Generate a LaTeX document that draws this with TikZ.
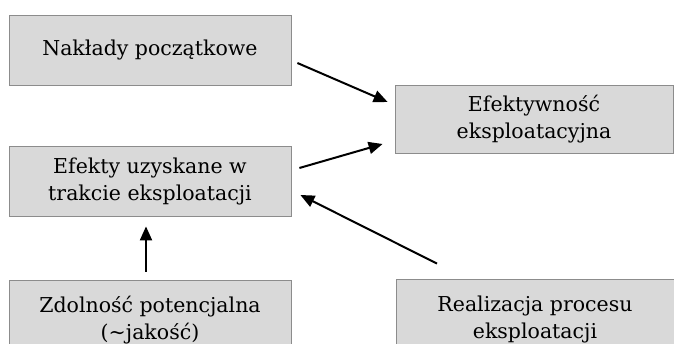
\documentclass[tikz,border=0pt]{standalone}
\usepackage{fontspec}
\setmainfont{DejaVu Serif}
\usetikzlibrary{arrows.meta}
\begin{document}
\begin{tikzpicture}[x=1pt,y=1pt,
    box/.style={draw=gray!90,fill=gray!30,line width=0.8pt,align=center,
      minimum width=282pt,minimum height=70pt,inner sep=0pt,
      font=\fontsize{20.5}{27}\selectfont},
    arr/.style={line width=2pt,-{Triangle[length=14pt,width=12pt]}}]
    \useasboundingbox (0,0) rectangle (674,344);
    \node[box] (nak) at (150,294) {Nakłady początkowe};
    \node[box,minimum width=278pt,minimum height=68pt] (efe) at (534,225) {Efektywność\\eksploatacyjna};
    \node[box] (uzy) at (150,163) {Efekty uzyskane w\\trakcie eksploatacji};
    \node[box,minimum height=80pt] (zdo) at (150,24) {Zdolność potencjalna\\(\textasciitilde jakość)};
    \node[box,minimum width=278pt,minimum height=80pt] (rea) at (535,25) {Realizacja procesu\\eksploatacji};
    \draw[arr] ([shift={(6,-13)}]nak.east) -- ([shift={(-7,17)}]efe.west);
    \draw[arr] ([shift={(8,13)}]uzy.east) -- ([shift={(-12,-25)}]efe.west);
    \draw[arr] ([shift={(-98,15)}]rea.north) -- ([shift={(9,-14)}]uzy.east);
    \draw[arr] ([shift={(-4,8)}]zdo.north) -- ([shift={(-4,-10)}]uzy.south);
  \end{tikzpicture}
\end{document}
